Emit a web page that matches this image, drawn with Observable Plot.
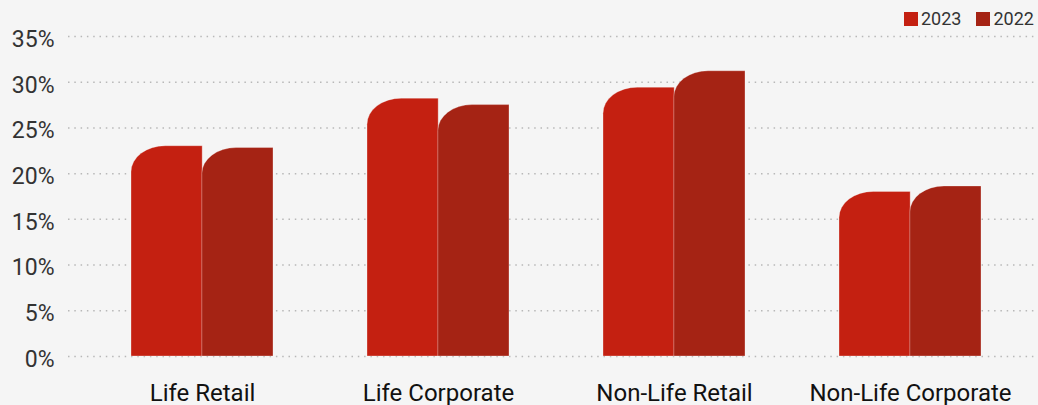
<!DOCTYPE html>
<html>
<head>
<meta charset="utf-8">
<script src="https://cdn.jsdelivr.net/npm/d3@7"></script>
<script src="https://cdn.jsdelivr.net/npm/@observablehq/plot@0.6"></script>
<style>
  html, body { margin: 0; padding: 0; background: #f5f5f5; }
  body { width: 1038px; height: 405px; overflow: hidden; position: relative; font-family: Roboto, sans-serif; }
  #legend { position: absolute; top: 8px; left: 904px; display: flex; align-items: center; font-size: 18px; color: #333; line-height: 22px; }
  #legend .item { display: flex; align-items: center; margin-right: 15px; }
  #legend .sw { width: 14px; height: 14px; margin-right: 3px; }
</style>
</head>
<body>
<div id="chart"></div>
<div id="legend"></div>
<script>
const categories = ["Life Retail", "Life Corporate", "Non-Life Retail", "Non-Life Corporate"];
const years = ["2023", "2022"];
const values2023 = [23.0, 28.2, 29.4, 18.0];
const values2022 = [22.8, 27.5, 31.2, 18.6];
const yTicks = [0, 5, 10, 15, 20, 25, 30, 35];
const colors = ["#c42011", "#a52314"];

const data2023 = categories.map((c, i) => ({category: c, year: "2023", value: values2023[i]}));
const data2022 = categories.map((c, i) => ({category: c, year: "2022", value: values2022[i]}));

const xOpts = {type: "band", domain: categories, range: [84, 1028], paddingInner: 0.4, paddingOuter: 0.2};
const bw = Plot.scale({x: xOpts}).bandwidth;

const chart = Plot.plot({
  width: 1038,
  height: 405,
  marginLeft: 68,
  marginRight: 0,
  marginTop: 36,
  marginBottom: 49,
  style: {background: "#f5f5f5", fontFamily: "Roboto, sans-serif", fontSize: "23px", color: "#333"},
  x: {...xOpts, label: null, tickSize: 0, tickPadding: 27},
  y: {domain: [0, 35], ticks: yTicks, tickFormat: d => d + "%", label: null, tickSize: 0, tickPadding: 14},
  marks: [
    Plot.ruleY(yTicks, {stroke: "#b8b8b8", strokeWidth: 1.5, strokeDasharray: "1.5,4.8"}),
    Plot.barY(data2023, {x: "category", y: "value", fill: colors[0], insetRight: bw / 2}),
    Plot.barY(data2022, {x: "category", y: "value", fill: colors[1], insetLeft: bw / 2})
  ]
});

// Round the top-left corner of each bar with an elliptical arc
chart.querySelectorAll('g[aria-label="bar"] rect').forEach(r => {
  const x = +r.getAttribute("x"), y = +r.getAttribute("y");
  const w = +r.getAttribute("width"), h = +r.getAttribute("height");
  const rx = Math.min(w * 0.48, w), ry = Math.min(26, h);
  const p = document.createElementNS("http://www.w3.org/2000/svg", "path");
  p.setAttribute("d", `M${x},${y + h}V${y + ry}A${rx},${ry} 0 0 1 ${x + rx},${y}H${x + w}V${y + h}Z`);
  p.setAttribute("stroke", "rgba(255,255,255,0.3)");
  p.setAttribute("stroke-width", "1");
  if (r.getAttribute("fill")) p.setAttribute("fill", r.getAttribute("fill"));
  r.replaceWith(p);
});

// y tick labels sit slightly below their gridlines
chart.querySelectorAll('g[aria-label="y-axis tick label"] text, g[aria-label="y-axis"] text').forEach(t => {
  t.setAttribute("transform", (t.getAttribute("transform") || "") + " translate(0,3)");
});
// x tick labels slightly larger and darker
chart.querySelectorAll('g[aria-label="x-axis tick label"], g[aria-label="x-axis"]').forEach(g => {
  g.setAttribute("font-size", "24px");
  g.setAttribute("fill", "#111");
  g.querySelectorAll("text").forEach(t => { t.setAttribute("font-size", "24px"); t.setAttribute("fill", "#111"); });
});

document.getElementById("chart").appendChild(chart);

const legend = document.getElementById("legend");
years.forEach((yr, i) => {
  const item = document.createElement("div");
  item.className = "item";
  const sw = document.createElement("div");
  sw.className = "sw";
  sw.style.background = colors[i];
  const lab = document.createElement("span");
  lab.textContent = yr;
  item.appendChild(sw);
  item.appendChild(lab);
  legend.appendChild(item);
});
</script>
</body>
</html>
